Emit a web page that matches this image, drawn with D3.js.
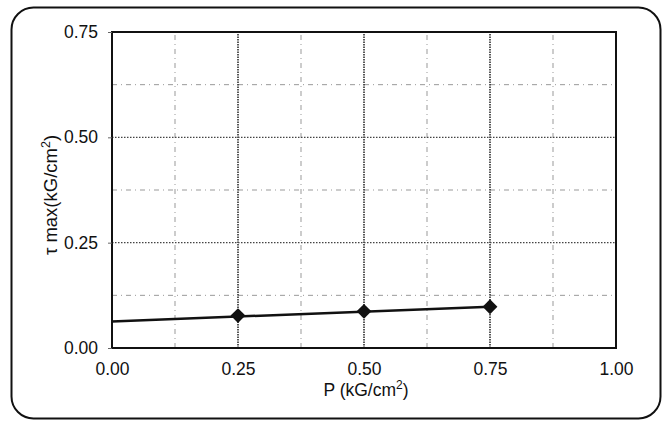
<!DOCTYPE html>
<html>
<head>
<meta charset="utf-8">
<script src="https://cdnjs.cloudflare.com/ajax/libs/d3/7.8.5/d3.min.js"></script>
<style>
  body { margin: 0; background: #fff; }
  text { font-family: "Liberation Sans", Arial, sans-serif; fill: #111; }
</style>
</head>
<body>
<div id="chart"></div>
<script>
var width = 671,
    height = 421;

// data
var pValues = [0.25, 0.50, 0.75];
var tauValues = [0.077, 0.087, 0.098];
var fitLine = [[0.00, 0.063], [0.75, 0.098]];
var xTicks = [0, 0.25, 0.5, 0.75, 1.0];
var yTicks = [0, 0.25, 0.5, 0.75];
var xMinor = [0.125, 0.375, 0.625, 0.875];
var yMinor = [0.125, 0.375, 0.625];

var margin = {left: 112, right: 55, top: 32, bottom: 73};

var x = d3.scaleLinear()
    .domain([0, 1])
    .range([margin.left, width - margin.right]);

var y = d3.scaleLinear()
    .domain([0, 0.75])
    .range([height - margin.bottom, margin.top]);

var svg = d3.select("#chart").append("svg")
    .attr("width", width)
    .attr("height", height);

// outer rounded frame
svg.append("rect")
    .attr("x", 11.5)
    .attr("y", 7.5)
    .attr("width", 649)
    .attr("height", 411)
    .attr("rx", 22)
    .attr("fill", "none")
    .attr("stroke", "#111")
    .attr("stroke-width", 2);

// minor grid (light dash-dot)
svg.selectAll(".vminor")
    .data(xMinor)
    .enter().append("line")
    .attr("x1", function(d){return x(d)})
    .attr("x2", function(d){return x(d)})
    .attr("y1", y(0))
    .attr("y2", y(0.75))
    .attr("stroke", "#999")
    .attr("stroke-width", 1)
    .attr("stroke-dasharray", "5,4,1,4");

svg.selectAll(".hminor")
    .data(yMinor)
    .enter().append("line")
    .attr("x1", x(0))
    .attr("x2", x(1))
    .attr("y1", function(d){return y(d)})
    .attr("y2", function(d){return y(d)})
    .attr("stroke", "#999")
    .attr("stroke-width", 1)
    .attr("stroke-dasharray", "5,4,1,4");

// major grid (dark dotted)
svg.selectAll(".vmajor")
    .data(xTicks.slice(1, 4))
    .enter().append("line")
    .attr("x1", function(d){return x(d)})
    .attr("x2", function(d){return x(d)})
    .attr("y1", y(0))
    .attr("y2", y(0.75))
    .attr("stroke", "#222")
    .attr("stroke-width", 1.5)
    .attr("stroke-dasharray", "1.5,1");

svg.selectAll(".hmajor")
    .data(yTicks.slice(1, 3))
    .enter().append("line")
    .attr("x1", x(0))
    .attr("x2", x(1))
    .attr("y1", function(d){return y(d)})
    .attr("y2", function(d){return y(d)})
    .attr("stroke", "#444")
    .attr("stroke-width", 1.3)
    .attr("stroke-dasharray", "1.5,1.5");

// plot frame
svg.append("rect")
    .attr("x", x(0))
    .attr("y", y(0.75))
    .attr("width", x(1) - x(0))
    .attr("height", y(0) - y(0.75))
    .attr("fill", "none")
    .attr("stroke", "#111")
    .attr("stroke-width", 2);

// axes
var xAxis = svg.append("g")
    .attr("transform", "translate(0," + y(0) + ")")
    .call(d3.axisBottom(x).tickValues(xTicks).tickFormat(d3.format(".2f")).tickSize(0).tickPadding(15));

var yAxis = svg.append("g")
    .attr("transform", "translate(" + x(0) + ",0)")
    .call(d3.axisLeft(y).tickValues(yTicks).tickFormat(d3.format(".2f")).tickSize(4).tickPadding(10));

svg.selectAll(".domain").remove();
svg.selectAll(".tick text")
    .style("font-size", "17.5px")
    .attr("fill", "#111");
yAxis.selectAll(".tick line").attr("stroke", "#666");

// axis titles
var xt = svg.append("text")
    .attr("x", 366)
    .attr("y", 396)
    .attr("text-anchor", "middle")
    .style("font-size", "17.5px");
xt.append("tspan").text("P  (kG/cm");
xt.append("tspan").style("font-size", "12px").attr("dy", -7).text("2");
xt.append("tspan").attr("dy", 7).text(")");

var yt = svg.append("text")
    .attr("transform", "translate(57,195) rotate(-90)")
    .attr("text-anchor", "middle")
    .style("font-size", "18.5px");
yt.append("tspan").text("τ max(kG/cm");
yt.append("tspan").style("font-size", "12.5px").attr("dy", -7).text("2");
yt.append("tspan").attr("dy", 7).text(")");

// trend line
var line = d3.line()
    .x(function(d){return x(d[0])})
    .y(function(d){return y(d[1])});

svg.append("path")
    .datum(fitLine)
    .attr("d", line)
    .attr("fill", "none")
    .attr("stroke", "#111")
    .attr("stroke-width", 2.5);

// points (square turned 45 degrees)
svg.selectAll(".pt")
    .data(pValues)
    .enter().append("path")
    .attr("class", "pt")
    .attr("d", d3.symbol().type(d3.symbolSquare).size(110))
    .attr("transform", function(d, i){return "translate(" + x(d) + "," + y(tauValues[i]) + ") rotate(45)";})
    .attr("fill", "#111");
</script>
</body>
</html>
